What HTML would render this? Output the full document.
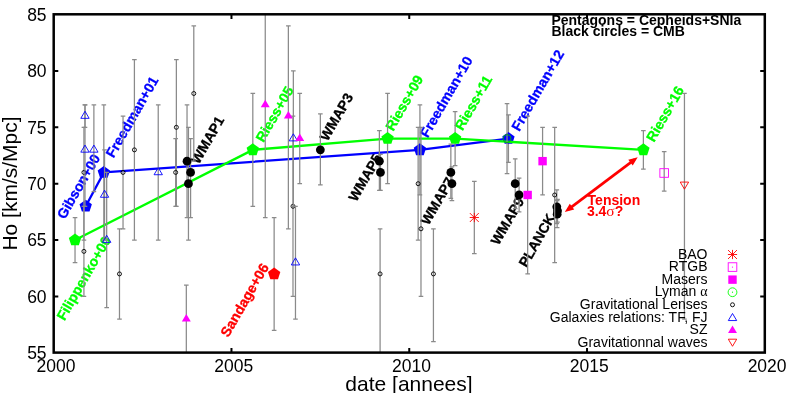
<!DOCTYPE html>
<html><head><meta charset="utf-8"><title>Ho vs date</title>
<style>
html,body{margin:0;padding:0;background:#fff;}
body{width:786px;height:393px;overflow:hidden;font-family:"Liberation Sans",sans-serif;}
svg{display:block;font-family:"Liberation Sans",sans-serif;}
</style></head><body>
<svg width="786" height="393" viewBox="0 0 786 393" style="will-change:transform">
<rect width="786" height="393" fill="#fff"/>
<g>
<text transform="translate(64.4 321.3) rotate(-60)" font-size="14" font-weight="bold" fill="#00ff00" stroke="#00ff00" stroke-width="0.3">Filippenko+00</text>
<text transform="translate(64.7 220.0) rotate(-60)" font-size="14" font-weight="bold" fill="#0000ff" stroke="#0000ff" stroke-width="0.3">Gibson+00</text>
<text transform="translate(113.6 158.6) rotate(-60)" font-size="14" font-weight="bold" fill="#0000ff" stroke="#0000ff" stroke-width="0.3">Freedman+01</text>
<text transform="translate(198.7 165.0) rotate(-60)" font-size="14" font-weight="bold" fill="#000" stroke="#000" stroke-width="0.3">WMAP1</text>
<text transform="translate(263.5 143.0) rotate(-60)" font-size="14" font-weight="bold" fill="#00ff00" stroke="#00ff00" stroke-width="0.3">Riess+05</text>
<text transform="translate(228.3 338.0) rotate(-60)" font-size="14" font-weight="bold" fill="#ff0000" stroke="#ff0000" stroke-width="0.3">Sandage+06</text>
<text transform="translate(327.5 142.0) rotate(-60)" font-size="14" font-weight="bold" fill="#000" stroke="#000" stroke-width="0.3">WMAP3</text>
<text transform="translate(356.2 202.5) rotate(-60)" font-size="14" font-weight="bold" fill="#000" stroke="#000" stroke-width="0.3">WMAP5</text>
<text transform="translate(393.2 131.8) rotate(-60)" font-size="14" font-weight="bold" fill="#00ff00" stroke="#00ff00" stroke-width="0.3">Riess+09</text>
<text transform="translate(427.7 138.5) rotate(-60)" font-size="14" font-weight="bold" fill="#0000ff" stroke="#0000ff" stroke-width="0.3">Freedman+10</text>
<text transform="translate(428.5 226.1) rotate(-60)" font-size="14" font-weight="bold" fill="#000" stroke="#000" stroke-width="0.3">WMAP7</text>
<text transform="translate(462.5 131.3) rotate(-60)" font-size="14" font-weight="bold" fill="#00ff00" stroke="#00ff00" stroke-width="0.3">Riess+11</text>
<text transform="translate(519.2 132.0) rotate(-60)" font-size="14" font-weight="bold" fill="#0000ff" stroke="#0000ff" stroke-width="0.3">Freedman+12</text>
<text transform="translate(498.5 246.1) rotate(-60)" font-size="14" font-weight="bold" fill="#000" stroke="#000" stroke-width="0.3">WMAP9</text>
<text transform="translate(526.5 268.1) rotate(-60)" font-size="14" font-weight="bold" fill="#000" stroke="#000" stroke-width="0.3">PLANCK</text>
<text transform="translate(653.9 142.8) rotate(-60)" font-size="14" font-weight="bold" fill="#00ff00" stroke="#00ff00" stroke-width="0.3">Riess+16</text>
<path d="M103.83 104.76V240.08M101.53 104.76H106.13M101.53 240.08H106.13" stroke="#8a8a8a" stroke-width="1.25" fill="none"/>
<path d="M419.92 104.76V194.98M417.62 104.76H422.22M417.62 194.98H422.22" stroke="#8a8a8a" stroke-width="1.25" fill="none"/>
<path d="M508.45 114.91V162.27M506.15 114.91H510.75M506.15 162.27H510.75" stroke="#8a8a8a" stroke-width="1.25" fill="none"/>
<polyline points="85.70,206.25 103.83,172.42 419.92,149.87 508.45,138.59" fill="none" stroke="#0000ff" stroke-width="2.3" stroke-linejoin="round"/>
<polygon points="85.70,199.75 91.88,204.24 89.52,211.51 81.88,211.51 79.52,204.24" fill="#0000ff"/>
<polygon points="103.83,165.92 110.01,170.41 107.65,177.68 100.01,177.68 97.65,170.41" fill="#0000ff"/>
<polygon points="419.92,143.37 426.10,147.86 423.74,155.13 416.10,155.13 413.73,147.86" fill="#0000ff"/>
<polygon points="508.45,132.09 514.63,136.58 512.27,143.85 504.63,143.85 502.27,136.58" fill="#0000ff"/>
<path d="M75.03 217.53V262.64M72.73 217.53H77.33M72.73 262.64H77.33" stroke="#8a8a8a" stroke-width="1.25" fill="none"/>
<path d="M252.81 93.49V206.25M250.51 93.49H255.11M250.51 206.25H255.11" stroke="#8a8a8a" stroke-width="1.25" fill="none"/>
<path d="M387.56 93.49V183.70M385.26 93.49H389.86M385.26 183.70H389.86" stroke="#8a8a8a" stroke-width="1.25" fill="none"/>
<path d="M455.12 111.53V165.66M452.82 111.53H457.42M452.82 165.66H457.42" stroke="#8a8a8a" stroke-width="1.25" fill="none"/>
<path d="M643.38 130.70V169.04M641.08 130.70H645.68M641.08 169.04H645.68" stroke="#8a8a8a" stroke-width="1.25" fill="none"/>
<polyline points="75.03,240.08 252.81,149.87 387.56,138.59 455.12,138.59 643.38,149.87" fill="none" stroke="#00ff00" stroke-width="2.3" stroke-linejoin="round"/>
<polygon points="75.03,233.58 81.21,238.07 78.85,245.34 71.21,245.34 68.85,238.07" fill="#00ff00"/>
<polygon points="252.81,143.37 258.99,147.86 256.63,155.13 248.99,155.13 246.63,147.86" fill="#00ff00"/>
<polygon points="387.56,132.09 393.74,136.58 391.38,143.85 383.74,143.85 381.38,136.58" fill="#00ff00"/>
<polygon points="455.12,132.09 461.30,136.58 458.94,143.85 451.30,143.85 448.93,136.58" fill="#00ff00"/>
<polygon points="643.38,143.37 649.56,147.86 647.20,155.13 639.56,155.13 637.20,147.86" fill="#00ff00"/>
<path d="M274.14 217.53V330.30M271.84 217.53H276.44M271.84 330.30H276.44" stroke="#8a8a8a" stroke-width="1.25" fill="none"/>
<polygon points="274.14,267.41 280.32,271.90 277.96,279.17 270.32,279.17 267.96,271.90" fill="#ff0000"/>
<path d="M187.03 104.76V217.53M184.73 104.76H189.33M184.73 217.53H189.33" stroke="#8a8a8a" stroke-width="1.25" fill="none"/>
<path d="M190.59 138.59V217.53M188.29 138.59H192.89M188.29 217.53H192.89" stroke="#8a8a8a" stroke-width="1.25" fill="none"/>
<path d="M188.45 127.32V240.08M186.15 127.32H190.75M186.15 240.08H190.75" stroke="#8a8a8a" stroke-width="1.25" fill="none"/>
<path d="M320.36 113.78V184.83M318.06 113.78H322.66M318.06 184.83H322.66" stroke="#8a8a8a" stroke-width="1.25" fill="none"/>
<path d="M379.38 130.70V190.47M377.08 130.70H381.68M377.08 190.47H381.68" stroke="#8a8a8a" stroke-width="1.25" fill="none"/>
<path d="M380.45 154.38V190.47M378.15 154.38H382.75M378.15 190.47H382.75" stroke="#8a8a8a" stroke-width="1.25" fill="none"/>
<path d="M450.85 144.23V198.36M448.55 144.23H453.15M448.55 198.36H453.15" stroke="#8a8a8a" stroke-width="1.25" fill="none"/>
<path d="M451.92 166.79V200.62M449.62 166.79H454.22M449.62 200.62H454.22" stroke="#8a8a8a" stroke-width="1.25" fill="none"/>
<path d="M515.20 158.89V208.51M512.90 158.89H517.50M512.90 208.51H517.50" stroke="#8a8a8a" stroke-width="1.25" fill="none"/>
<path d="M519.11 178.06V211.89M516.81 178.06H521.41M516.81 211.89H521.41" stroke="#8a8a8a" stroke-width="1.25" fill="none"/>
<path d="M556.80 189.90V223.73M554.50 189.90H559.10M554.50 223.73H559.10" stroke="#8a8a8a" stroke-width="1.25" fill="none"/>
<path d="M557.51 199.49V222.04M555.21 199.49H559.81M555.21 222.04H559.81" stroke="#8a8a8a" stroke-width="1.25" fill="none"/>
<path d="M557.16 200.62V227.68M554.86 200.62H559.46M554.86 227.68H559.46" stroke="#8a8a8a" stroke-width="1.25" fill="none"/>
<circle cx="187.03" cy="161.15" r="4.4" fill="#000"/>
<circle cx="190.59" cy="172.42" r="4.4" fill="#000"/>
<circle cx="188.45" cy="183.70" r="4.4" fill="#000"/>
<circle cx="320.36" cy="149.87" r="4.4" fill="#000"/>
<circle cx="379.38" cy="161.15" r="4.4" fill="#000"/>
<circle cx="380.45" cy="172.42" r="4.4" fill="#000"/>
<circle cx="450.85" cy="172.42" r="4.4" fill="#000"/>
<circle cx="451.92" cy="183.70" r="4.4" fill="#000"/>
<circle cx="515.20" cy="183.70" r="4.4" fill="#000"/>
<circle cx="519.11" cy="194.98" r="4.4" fill="#000"/>
<circle cx="556.80" cy="206.82" r="4.4" fill="#000"/>
<circle cx="557.51" cy="210.76" r="4.4" fill="#000"/>
<circle cx="557.16" cy="214.15" r="4.4" fill="#000"/>
<path d="M474.32 181.44V253.62M472.02 181.44H476.62M472.02 253.62H476.62" stroke="#8a8a8a" stroke-width="1.25" fill="none"/>
<path d="M527.65 116.04V273.91M525.35 116.04H529.95M525.35 273.91H529.95" stroke="#8a8a8a" stroke-width="1.25" fill="none"/>
<path d="M542.58 127.32V194.98M540.28 127.32H544.88M540.28 194.98H544.88" stroke="#8a8a8a" stroke-width="1.25" fill="none"/>
<path d="M507.03 103.64V173.55M504.73 103.64H509.33M504.73 173.55H509.33" stroke="#8a8a8a" stroke-width="1.25" fill="none"/>
<path d="M664.18 151.56V191.03M661.88 151.56H666.48M661.88 191.03H666.48" stroke="#8a8a8a" stroke-width="1.25" fill="none"/>
<path d="M684.45 93.49V319.02M682.15 93.49H686.75M682.15 319.02H686.75" stroke="#8a8a8a" stroke-width="1.25" fill="none"/>
<path d="M469.72 217.53H478.92M474.32 212.93V222.13M469.85 213.07L478.78 221.99M469.85 221.99L478.78 213.07" stroke="#ff0000" stroke-width="0.9" fill="none"/>
<rect x="659.88" y="168.69" width="8.6" height="8.6" fill="none" stroke="#ff00ff" stroke-width="0.9"/>
<rect x="523.45" y="190.78" width="8.4" height="8.4" fill="#ff00ff"/>
<rect x="538.38" y="156.95" width="8.4" height="8.4" fill="#ff00ff"/>
<circle cx="507.03" cy="138.59" r="4.0" fill="none" stroke="#00a818" stroke-width="1.0"/>
<path d="M83.92 127.32V240.08M81.62 127.32H86.22M81.62 240.08H86.22" stroke="#8a8a8a" stroke-width="1.25" fill="none"/>
<path d="M83.92 206.25V296.47M81.62 206.25H86.22M81.62 296.47H86.22" stroke="#8a8a8a" stroke-width="1.25" fill="none"/>
<path d="M123.03 116.04V228.81M120.73 116.04H125.33M120.73 228.81H125.33" stroke="#8a8a8a" stroke-width="1.25" fill="none"/>
<path d="M119.48 228.81V319.02M117.18 228.81H121.78M117.18 319.02H121.78" stroke="#8a8a8a" stroke-width="1.25" fill="none"/>
<path d="M134.41 59.66V240.08M132.11 59.66H136.71M132.11 240.08H136.71" stroke="#8a8a8a" stroke-width="1.25" fill="none"/>
<path d="M176.36 59.66V206.25M174.06 59.66H178.66M174.06 206.25H178.66" stroke="#8a8a8a" stroke-width="1.25" fill="none"/>
<path d="M175.65 138.59V206.25M173.35 138.59H177.95M173.35 206.25H177.95" stroke="#8a8a8a" stroke-width="1.25" fill="none"/>
<path d="M193.79 25.83V161.15M191.49 25.83H196.09M191.49 161.15H196.09" stroke="#8a8a8a" stroke-width="1.25" fill="none"/>
<path d="M292.99 116.04V296.47M290.69 116.04H295.29M290.69 296.47H295.29" stroke="#8a8a8a" stroke-width="1.25" fill="none"/>
<path d="M380.09 228.81V352.60M377.79 228.81H382.39" stroke="#8a8a8a" stroke-width="1.25" fill="none"/>
<path d="M418.14 127.32V240.08M415.84 127.32H420.44M415.84 240.08H420.44" stroke="#8a8a8a" stroke-width="1.25" fill="none"/>
<path d="M420.98 127.32V296.47M418.68 127.32H423.28M418.68 296.47H423.28" stroke="#8a8a8a" stroke-width="1.25" fill="none"/>
<path d="M433.43 228.81V341.57M431.13 228.81H435.73M431.13 341.57H435.73" stroke="#8a8a8a" stroke-width="1.25" fill="none"/>
<path d="M554.67 127.32V262.64M552.37 127.32H556.97M552.37 262.64H556.97" stroke="#8a8a8a" stroke-width="1.25" fill="none"/>
<circle cx="83.92" cy="172.42" r="2.0" fill="none" stroke="#000" stroke-width="0.9"/>
<circle cx="83.92" cy="251.36" r="2.0" fill="none" stroke="#000" stroke-width="0.9"/>
<circle cx="123.03" cy="172.42" r="2.0" fill="none" stroke="#000" stroke-width="0.9"/>
<circle cx="119.48" cy="273.91" r="2.0" fill="none" stroke="#000" stroke-width="0.9"/>
<circle cx="134.41" cy="149.87" r="2.0" fill="none" stroke="#000" stroke-width="0.9"/>
<circle cx="176.36" cy="127.32" r="2.0" fill="none" stroke="#000" stroke-width="0.9"/>
<circle cx="175.65" cy="172.42" r="2.0" fill="none" stroke="#000" stroke-width="0.9"/>
<circle cx="193.79" cy="93.49" r="2.0" fill="none" stroke="#000" stroke-width="0.9"/>
<circle cx="292.99" cy="206.25" r="2.0" fill="none" stroke="#000" stroke-width="0.9"/>
<circle cx="380.09" cy="273.91" r="2.0" fill="none" stroke="#000" stroke-width="0.9"/>
<circle cx="418.14" cy="183.70" r="2.0" fill="none" stroke="#000" stroke-width="0.9"/>
<circle cx="420.98" cy="228.81" r="2.0" fill="none" stroke="#000" stroke-width="0.9"/>
<circle cx="433.43" cy="273.91" r="2.0" fill="none" stroke="#000" stroke-width="0.9"/>
<circle cx="554.67" cy="194.98" r="2.0" fill="none" stroke="#000" stroke-width="0.9"/>
<path d="M84.99 104.76V127.32M82.69 104.76H87.29M82.69 127.32H87.29" stroke="#8a8a8a" stroke-width="1.25" fill="none"/>
<path d="M84.99 104.76V206.25M82.69 104.76H87.29M82.69 206.25H87.29" stroke="#8a8a8a" stroke-width="1.25" fill="none"/>
<path d="M93.88 104.76V191.59M91.58 104.76H96.18M91.58 191.59H96.18" stroke="#8a8a8a" stroke-width="1.25" fill="none"/>
<path d="M104.54 149.87V240.08M102.24 149.87H106.84M102.24 240.08H106.84" stroke="#8a8a8a" stroke-width="1.25" fill="none"/>
<path d="M106.68 172.42V307.74M104.38 172.42H108.98M104.38 307.74H108.98" stroke="#8a8a8a" stroke-width="1.25" fill="none"/>
<path d="M158.23 104.76V240.08M155.93 104.76H160.53M155.93 240.08H160.53" stroke="#8a8a8a" stroke-width="1.25" fill="none"/>
<path d="M293.34 70.93V206.25M291.04 70.93H295.64M291.04 206.25H295.64" stroke="#8a8a8a" stroke-width="1.25" fill="none"/>
<path d="M295.47 206.25V319.02M293.17 206.25H297.77M293.17 319.02H297.77" stroke="#8a8a8a" stroke-width="1.25" fill="none"/>
<path d="M84.99 111.26L80.80 118.34H89.17Z" fill="none" stroke="#0000ff" stroke-width="0.9"/>
<path d="M84.99 145.09L80.80 152.17H89.17Z" fill="none" stroke="#0000ff" stroke-width="0.9"/>
<path d="M93.88 145.09L89.69 152.17H98.06Z" fill="none" stroke="#0000ff" stroke-width="0.9"/>
<path d="M104.54 190.19L100.36 197.28H108.73Z" fill="none" stroke="#0000ff" stroke-width="0.9"/>
<path d="M106.68 235.30L102.49 242.38H110.86Z" fill="none" stroke="#0000ff" stroke-width="0.9"/>
<path d="M158.23 167.64L154.05 174.72H162.42Z" fill="none" stroke="#0000ff" stroke-width="0.9"/>
<path d="M293.34 133.81L289.15 140.89H297.53Z" fill="none" stroke="#0000ff" stroke-width="0.9"/>
<path d="M295.47 257.85L291.29 264.94H299.66Z" fill="none" stroke="#0000ff" stroke-width="0.9"/>
<path d="M186.32 285.19V352.60M184.02 285.19H188.62" stroke="#8a8a8a" stroke-width="1.25" fill="none"/>
<path d="M265.25 14.30V217.53M262.95 217.53H267.55" stroke="#8a8a8a" stroke-width="1.25" fill="none"/>
<path d="M288.36 25.83V228.81M286.06 25.83H290.66M286.06 228.81H290.66" stroke="#8a8a8a" stroke-width="1.25" fill="none"/>
<path d="M299.74 93.49V183.70M297.44 93.49H302.04M297.44 183.70H302.04" stroke="#8a8a8a" stroke-width="1.25" fill="none"/>
<path d="M186.32 314.01L181.86 321.55H190.78Z" fill="#ff00ff"/>
<path d="M265.25 99.75L260.79 107.29H269.71Z" fill="#ff00ff"/>
<path d="M288.36 111.03L283.90 118.57H292.82Z" fill="#ff00ff"/>
<path d="M299.74 133.58L295.28 141.12H304.20Z" fill="#ff00ff"/>
<path d="M684.45 189.16L680.26 182.08H688.63Z" fill="none" stroke="#ff0000" stroke-width="0.9"/>
<line x1="568.00" y1="209.60" x2="634.50" y2="159.60" stroke="#ff0000" stroke-width="2.7"/>
<polygon points="637.70,157.20 632.73,165.57 628.28,159.65" fill="#ff0000"/>
<polygon points="564.80,212.00 569.77,203.63 574.22,209.55" fill="#ff0000"/>
<text x="587.6" y="205.3" font-size="14" font-weight="bold" fill="#ff0000">Tension</text>
<text x="586.9" y="215.5" font-size="14" font-weight="bold" fill="#ff0000">3.4<tspan font-family="Liberation Serif" font-weight="normal" font-size="15.5">σ</tspan>?</text>
<text x="551.4" y="25.4" font-size="14" font-weight="bold" fill="#000">Pentagons = Cepheids+SNIa</text>
<text x="551.4" y="35.7" font-size="14" font-weight="bold" fill="#000">Black circles = CMB</text>
<text x="707.5" y="258.70" font-size="14" text-anchor="end" fill="#000">BAO</text>
<text x="707.5" y="271.27" font-size="14" text-anchor="end" fill="#000">RTGB</text>
<text x="707.5" y="283.84" font-size="14" text-anchor="end" fill="#000">Masers</text>
<text x="707.5" y="296.41" font-size="14" text-anchor="end" fill="#000">Lyman <tspan font-family="Liberation Serif">α</tspan></text>
<text x="707.5" y="308.98" font-size="14" text-anchor="end" fill="#000">Gravitational Lenses</text>
<text x="707.5" y="321.55" font-size="14" text-anchor="end" fill="#000">Galaxies relations: TF, FJ</text>
<text x="707.5" y="334.12" font-size="14" text-anchor="end" fill="#000">SZ</text>
<text x="707.5" y="346.69" font-size="14" text-anchor="end" fill="#000">Gravitationnal waves</text>
<path d="M727.90 254.50H737.10M732.50 249.90V259.10M728.04 250.04L736.96 258.96M728.04 258.96L736.96 250.04" stroke="#ff0000" stroke-width="0.9" fill="none"/>
<rect x="728.20" y="262.77" width="8.6" height="8.6" fill="none" stroke="#ff00ff" stroke-width="0.9"/>
<circle cx="732.5" cy="267.07" r="0.6" fill="#ff00ff"/>
<rect x="728.30" y="275.44" width="8.4" height="8.4" fill="#ff00ff"/>
<circle cx="732.5" cy="292.21" r="4.4" fill="none" stroke="#00ff00" stroke-width="0.9"/><circle cx="732.5" cy="292.21" r="0.6" fill="#00ff00"/>
<circle cx="732.5" cy="304.78" r="2.0" fill="none" stroke="#000" stroke-width="0.9"/>
<path d="M732.50 313.47L728.31 320.55H736.69Z" fill="none" stroke="#0000ff" stroke-width="0.9"/>
<path d="M732.50 325.41L728.04 332.95H736.96Z" fill="#ff00ff"/>
<path d="M732.50 346.27L728.31 339.19H736.69Z" fill="none" stroke="#ff0000" stroke-width="0.9"/>
</g>
<g>
<rect x="53.7" y="14.3" width="711.0999999999999" height="338.3" fill="none" stroke="#000" stroke-width="2.5"/>
<path d="M53.7 296.47h4.6M764.8 296.47h-4.6M53.7 240.08h4.6M764.8 240.08h-4.6M53.7 183.70h4.6M764.8 183.70h-4.6M53.7 127.32h4.6M764.8 127.32h-4.6M53.7 70.93h4.6M764.8 70.93h-4.6M231.47 352.6v-4.6M231.47 14.3v4.6M409.25 352.6v-4.6M409.25 14.3v4.6M587.02 352.6v-4.6M587.02 14.3v4.6" stroke="#000" stroke-width="2" fill="none"/>
<text x="46.6" y="359.10" font-size="17.5" text-anchor="end">55</text>
<text x="46.6" y="302.72" font-size="17.5" text-anchor="end">60</text>
<text x="46.6" y="246.33" font-size="17.5" text-anchor="end">65</text>
<text x="46.6" y="189.95" font-size="17.5" text-anchor="end">70</text>
<text x="46.6" y="133.57" font-size="17.5" text-anchor="end">75</text>
<text x="46.6" y="77.18" font-size="17.5" text-anchor="end">80</text>
<text x="46.6" y="20.80" font-size="17.5" text-anchor="end">85</text>
<text x="56.00" y="372.1" font-size="17.5" text-anchor="middle">2000</text>
<text x="233.77" y="372.1" font-size="17.5" text-anchor="middle">2005</text>
<text x="411.55" y="372.1" font-size="17.5" text-anchor="middle">2010</text>
<text x="589.32" y="372.1" font-size="17.5" text-anchor="middle">2015</text>
<text x="767.10" y="372.1" font-size="17.5" text-anchor="middle">2020</text>
<text x="409" y="391.3" font-size="21" text-anchor="middle">date [annees]</text>
<text transform="translate(17.0 183.5) rotate(-90)" font-size="21" text-anchor="middle">Ho [km/s/Mpc]</text>
</g>
</svg>
</body></html>
